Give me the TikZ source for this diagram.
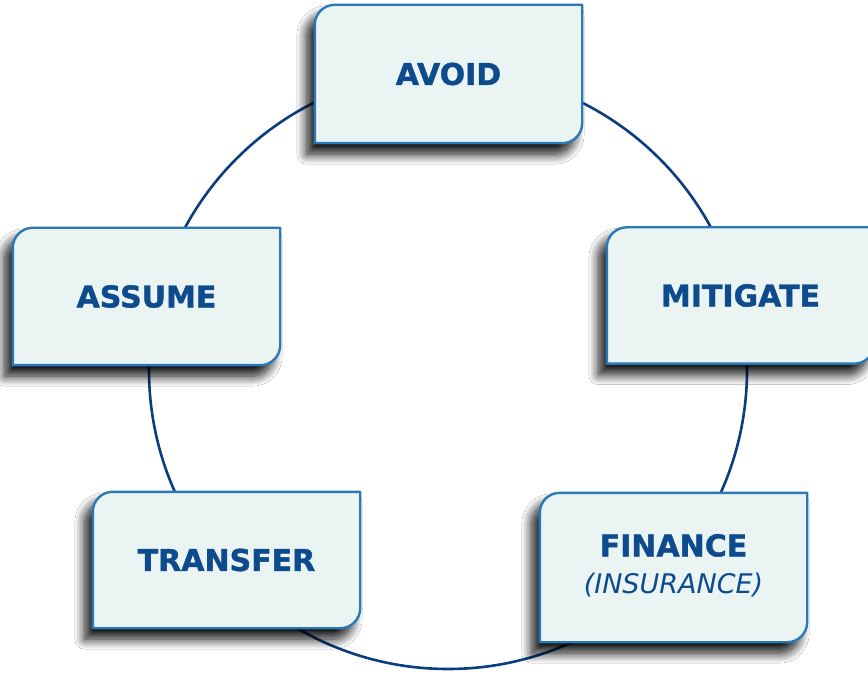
\documentclass[tikz,border=0pt]{standalone}
\usepackage{fontspec}
\setmainfont{DejaVu Sans}[BoldFeatures={FakeBold=1.3}]
\usetikzlibrary{calc,shadows.blur}
\definecolor{ringblue}{HTML}{0B3D7E}
\definecolor{edgeblue}{HTML}{2A78B6}
\definecolor{boxfill}{HTML}{EAF4F2}
\definecolor{textblue}{HTML}{0E4A8E}
\tikzset{
  boxframe/.style={rectangle, draw=none, inner sep=0pt, minimum width=267pt},
  boxpath/.style={draw=edgeblue, line width=2.4pt, fill=boxfill, line join=round,
    blur shadow={shadow xshift=-8pt, shadow yshift=-11pt, shadow blur radius=10pt,
      shadow blur steps=16, shadow opacity=95}},
  boxtext/.style={text=textblue, font=\bfseries\fontsize{30}{36}\selectfont, align=center},
  ring/.style={draw=ringblue, line width=2.6pt}
}
\newcommand{\riskshape}[1]{%
  \path[boxpath] (#1.south west) -- ($(#1.north west)+(0,-20pt)$)
    arc[start angle=180, end angle=90, radius=20pt] -- (#1.north east)
    -- ($(#1.south east)+(0,20pt)$)
    arc[start angle=0, end angle=-90, radius=20pt] -- cycle;}
\begin{document}
\begin{tikzpicture}[x=1pt, y=1pt]
\useasboundingbox (0,0) rectangle (868,673);
\clip (0,0) rectangle (868,673);
\fill[white] (0,0) rectangle (868,673);
\coordinate (c) at (448,303);
\draw[ring] (c) circle[radius=299];
% frames
\node[boxframe, minimum height=138pt] (avoid) at (448.5,599) {};
\node[boxframe, minimum height=137pt] (assume) at (146.5,376.5) {};
\node[boxframe, minimum height=136pt] (mitigate) at (740.5,377.5) {};
\node[boxframe, minimum height=136pt] (transfer) at (226.5,113) {};
\node[boxframe, minimum height=149pt] (finance) at (673.5,105.5) {};
\riskshape{avoid}
\riskshape{assume}
\riskshape{mitigate}
\riskshape{transfer}
\riskshape{finance}
\node[boxtext] (avoid-t) at (avoid) {AVOID};
\node[boxtext] (assume-t) at (assume) {ASSUME};
\node[boxtext] (mitigate-t) at (mitigate) {MITIGATE};
\node[boxtext] (transfer-t) at (transfer) {TRANSFER};
\node[boxtext] (finance-t) at ($(finance)+(0,2)$) {FINANCE\\[1pt]{\mdseries\itshape\fontsize{27}{32}\selectfont (INSURANCE)}};
\end{tikzpicture}
\end{document}
